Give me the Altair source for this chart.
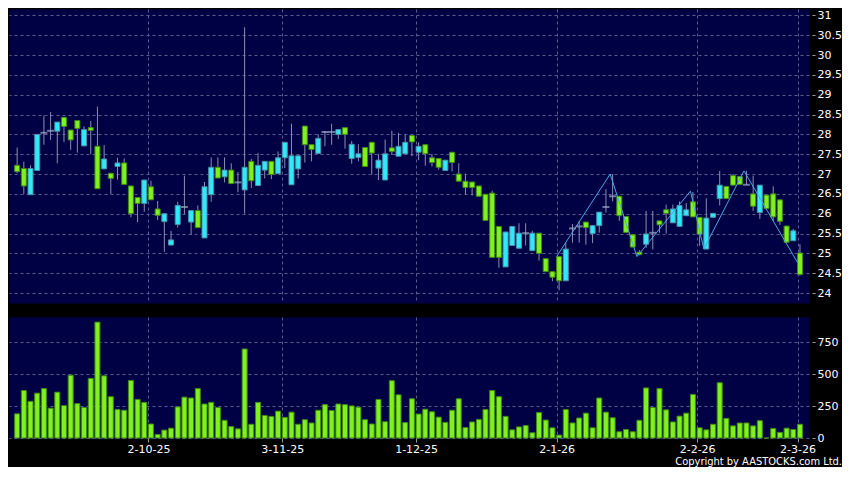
import altair as alt
import pandas as pd

opens = [27.22, 27.14, 26.48, 27.09, 28.04, 28.09, 28.08, 28.43, 28.11, 28.35,
         27.71, 28.17, 27.70, 27.13, 27.02, 27.19, 27.28, 26.70, 26.41, 26.26,
         26.68, 26.12, 25.80, 25.21, 25.73, 26.17, 25.79, 26.08, 25.39, 26.48,
         27.17, 26.93, 27.10, 26.79, 26.60, 27.32, 26.71, 27.10, 27.32, 27.01,
         27.41, 26.73, 27.13, 28.21, 27.74, 27.52, 28.06, 28.06, 28.00, 28.17,
         27.39, 27.42, 27.67, 27.80, 27.15, 26.85, 27.66, 27.45, 27.51, 27.97,
         27.55, 27.74, 27.41, 27.39, 27.09, 27.55, 27.00, 26.82, 26.80, 26.70,
         26.49, 26.52, 25.68, 24.66, 25.20, 25.13, 25.51, 25.07, 25.51, 24.87,
         24.54, 24.92, 24.31, 25.63, 25.68, 25.79, 25.50, 25.70, 26.17, 26.44,
         26.44, 25.93, 25.47, 25.03, 25.23, 25.52, 25.82, 26.10, 25.77, 25.68,
         25.95, 26.30, 25.91, 25.11, 25.91, 26.38, 26.69, 26.96, 26.94, 26.73,
         26.50, 26.03, 26.47, 26.50, 26.35, 25.69, 25.32, 25.01]
closes = [27.06, 26.70, 27.14, 28.00, 28.04, 28.09, 28.31, 28.20, 27.86, 28.15,
          28.12, 28.10, 26.63, 27.38, 26.89, 27.28, 26.74, 26.00, 26.26, 26.85,
          26.35, 25.96, 26.00, 25.34, 26.21, 26.17, 26.08, 25.65, 26.68, 27.17,
          26.90, 27.10, 26.76, 26.79, 27.17, 26.83, 27.22, 27.32, 26.99, 27.41,
          27.80, 27.46, 27.46, 27.74, 27.62, 27.90, 28.06, 28.06, 28.12, 28.00,
          27.75, 27.51, 27.19, 27.53, 27.35, 27.51, 27.57, 27.70, 27.80, 27.81,
          27.70, 27.51, 27.29, 27.17, 27.35, 27.29, 26.82, 26.66, 26.66, 26.44,
          25.83, 24.90, 24.90, 25.54, 25.68, 25.51, 25.51, 25.51, 25.00, 24.54,
          24.40, 24.31, 25.11, 25.63, 25.68, 25.65, 25.70, 26.04, 26.17, 26.44,
          25.95, 25.53, 25.16, 24.97, 25.49, 25.52, 25.72, 26.01, 26.12, 26.21,
          26.10, 25.92, 25.48, 25.89, 26.01, 26.72, 26.38, 26.72, 26.74, 26.73,
          26.19, 26.72, 26.13, 25.92, 25.81, 25.28, 25.57, 24.47]
highs = [27.67, 27.31, 27.22, 28.00, 28.47, 28.56, 28.31, 28.43, 28.11, 28.35,
         28.20, 28.34, 28.70, 27.73, 27.02, 27.41, 27.39, 26.70, 26.41, 26.85,
         26.83, 26.32, 26.00, 25.57, 26.30, 26.96, 26.08, 26.21, 26.80, 27.42,
         27.42, 27.42, 27.27, 27.05, 30.70, 27.38, 27.53, 27.32, 27.32, 27.57,
         27.80, 28.27, 27.46, 28.21, 27.74, 28.00, 28.08, 28.27, 28.12, 28.17,
         27.83, 27.75, 27.67, 27.80, 27.51, 27.87, 28.09, 28.04, 28.00, 27.97,
         27.80, 27.74, 27.50, 27.39, 27.35, 27.55, 27.27, 27.01, 26.80, 26.70,
         26.49, 26.58, 25.68, 25.54, 25.68, 25.76, 25.76, 25.57, 25.51, 24.87,
         24.54, 24.92, 25.26, 25.74, 25.82, 25.79, 25.70, 26.04, 26.62, 27.00,
         26.44, 25.93, 25.47, 25.08, 26.07, 26.07, 25.82, 26.23, 26.23, 26.31,
         26.27, 26.55, 25.91, 26.39, 26.01, 27.08, 26.69, 27.00, 26.94, 27.08,
         26.96, 26.72, 26.47, 26.69, 26.35, 25.69, 25.62, 25.23]
lows = [27.02, 26.50, 26.48, 27.09, 27.74, 27.86, 27.27, 27.81, 27.61, 27.54,
        27.71, 27.50, 26.63, 27.13, 26.50, 26.86, 26.74, 25.91, 25.79, 26.05,
        26.35, 25.84, 25.04, 25.21, 25.65, 25.99, 25.47, 25.65, 25.39, 26.30,
        26.90, 26.79, 26.76, 26.54, 26.00, 26.65, 26.71, 26.89, 26.87, 27.01,
        27.15, 26.73, 26.89, 27.29, 27.32, 27.52, 27.70, 27.74, 27.88, 27.64,
        27.26, 27.32, 27.19, 26.99, 26.85, 26.85, 27.48, 27.45, 27.51, 27.45,
        27.35, 27.21, 27.19, 27.11, 27.09, 27.07, 26.82, 26.48, 26.46, 26.44,
        25.83, 24.90, 24.64, 24.66, 25.20, 25.13, 25.20, 25.07, 24.82, 24.54,
        24.30, 24.07, 24.31, 25.27, 25.27, 25.22, 25.26, 25.52, 26.03, 26.31,
        25.82, 25.53, 25.16, 24.95, 25.14, 25.10, 25.52, 25.50, 25.77, 25.68,
        25.95, 25.92, 25.19, 25.11, 25.91, 26.21, 26.38, 26.72, 26.74, 26.73,
        26.07, 25.87, 26.13, 25.82, 25.72, 25.28, 25.32, 24.44]
volumes = [190, 373, 288, 352, 388, 234, 360, 254, 493, 270,
           239, 468, 910, 488, 324, 224, 218, 452, 303, 280,
           110, 28, 62, 77, 244, 321, 314, 388, 267, 280,
           239, 139, 90, 72, 699, 108, 280, 177, 170, 211,
           162, 203, 108, 144, 118, 218, 262, 216, 267, 262,
           252, 242, 144, 110, 303, 128, 450, 339, 121, 308,
           188, 226, 206, 164, 123, 218, 308, 82, 126, 146,
           224, 373, 324, 170, 64, 87, 98, 41, 200, 141,
           80, 23, 224, 118, 157, 195, 80, 314, 203, 159,
           49, 67, 49, 139, 393, 239, 388, 221, 126, 172,
           195, 342, 80, 64, 108, 434, 154, 95, 118, 118,
           95, 136, 0, 75, 44, 77, 67, 108]

tick_index = [20, 40, 60, 81, 102, 117]
tick_labels = ["2-10-25", "3-11-25", "1-12-25", "2-1-26", "2-2-26", "2-3-26"]
zz_index = [81, 89, 93, 101, 103, 109, 117]
zz_price = [24.92, 27.0, 24.92, 26.57, 25.11, 27.08, 24.77]
price_ticks = [24, 24.5, 25, 25.5, 26, 26.5, 27, 27.5, 28, 28.5, 29, 29.5, 30, 30.5, 31]
volume_ticks = [0, 250, 500, 750]

NAVY = "#000044"
GREEN = "#80F01E"
GREEN_EDGE = "#3F8A12"
CYAN = "#30E8F8"
CYAN_EDGE = "#4A8FA8"
WICK = "#8E8EAE"
GRID = "#5C5C8E"
FONT = "DejaVu Sans"
W = 800

df = pd.DataFrame({"i": list(range(len(opens))), "open": opens, "close": closes,
                   "high": highs, "low": lows, "volume": volumes})
df["lo"] = df[["open", "close"]].min(axis=1)
df["hi"] = df[["open", "close"]].max(axis=1)
df["kind"] = ["up" if c > o else ("down" if c < o else "doji") for o, c in zip(opens, closes)]

zz = pd.DataFrame({"i": zz_index, "p": zz_price})

SHIFT = 0.37
xvals = [round(t - SHIFT, 2) for t in tick_index]
label_expr = "[" + ",".join("'%s'" % s for s in tick_labels) + "][indexof([" + \
    ",".join(str(v) for v in xvals) + "], datum.value)]"

xscale = alt.Scale(domain=[-0.47, 117.6], nice=False, zero=False)
pscale = alt.Scale(domain=[23.75, 31.16], nice=False, zero=False)
vscale = alt.Scale(domain=[0, 950], nice=False)

x_top_axis = alt.Axis(values=xvals, tickCount=20, labels=False, ticks=False, domain=False,
                      grid=True, gridDash=[3, 3], gridColor=GRID, title=None)
x_bot_axis = alt.Axis(values=xvals, tickCount=20, labelExpr=label_expr, ticks=True, tickSize=4,
                      tickColor="#9A9A9A", domain=False, grid=True, gridDash=[3, 3],
                      gridColor=GRID, labelColor="white", labelFontSize=11, labelFont=FONT,
                      labelPadding=1, labelFlush=False, labelOverlap=False, title=None)
p_axis = alt.Axis(orient="right", values=price_ticks, tickCount=30, labelExpr="'' + datum.value",
                  grid=True, gridDash=[3, 3], gridColor=GRID, domain=False,
                  tickColor="#9A9A9A", tickSize=3, offset=3, labelPadding=2,
                  labelOverlap=False, labelColor="white", labelFontSize=11,
                  labelFont=FONT, title=None)
v_axis = alt.Axis(orient="right", values=volume_ticks, tickCount=10, grid=True, gridDash=[3, 3],
                  gridColor=GRID, domain=False, tickColor="#9A9A9A", tickSize=3, offset=3,
                  labelPadding=2, labelOverlap=False, labelColor="white", labelFontSize=11,
                  labelFont=FONT, title=None)

base = alt.Chart(df)

wicks = base.mark_rule(color=WICK, strokeWidth=1).encode(
    x=alt.X("i:Q", scale=xscale, axis=x_top_axis),
    y=alt.Y("low:Q", scale=pscale, axis=p_axis),
    y2="high:Q",
)
bodies = base.transform_filter("datum.kind != 'doji'").mark_bar(size=5, strokeWidth=1).encode(
    x=alt.X("i:Q", scale=xscale),
    y=alt.Y("lo:Q", scale=pscale),
    y2="hi:Q",
    fill=alt.Fill("kind:N", scale=alt.Scale(domain=["up", "down"], range=[CYAN, GREEN]), legend=None),
    stroke=alt.Stroke("kind:N", scale=alt.Scale(domain=["up", "down"], range=[CYAN_EDGE, GREEN_EDGE]), legend=None),
)
dojis = base.transform_filter("datum.kind == 'doji'").mark_tick(
    size=7, thickness=2, color="#9DA8C8", orient="horizontal").encode(
    x=alt.X("i:Q", scale=xscale),
    y=alt.Y("open:Q", scale=pscale),
)
zigzag = alt.Chart(zz).transform_calculate(xi="datum.i - %s" % SHIFT).mark_line(
    color="#4EA6E6", strokeWidth=1).encode(
    x=alt.X("xi:Q", scale=xscale),
    y=alt.Y("p:Q", scale=pscale),
)

price = alt.layer(wicks, bodies, dojis, zigzag).properties(width=W, height=294)

volume = base.mark_bar(size=5, strokeWidth=1, fill=GREEN, stroke=GREEN_EDGE).encode(
    x=alt.X("i:Q", scale=xscale, axis=x_bot_axis),
    y=alt.Y("volume:Q", scale=vscale, axis=v_axis),
).properties(width=W, height=121)

chart = alt.vconcat(price, volume, spacing=12).properties(
    padding=0,
    background="black",
    title=alt.TitleParams("Copyright by AASTOCKS.com Ltd.", orient="bottom", anchor="end",
                          fontSize=11, color="white", fontWeight="normal",
                          font="DejaVu Sans Condensed, DejaVu Sans",
                          offset=1, frame="bounds"),
).configure_view(fill=NAVY, stroke="transparent")

chart.save("out.html", embed_options={"renderer": "svg", "actions": False})
